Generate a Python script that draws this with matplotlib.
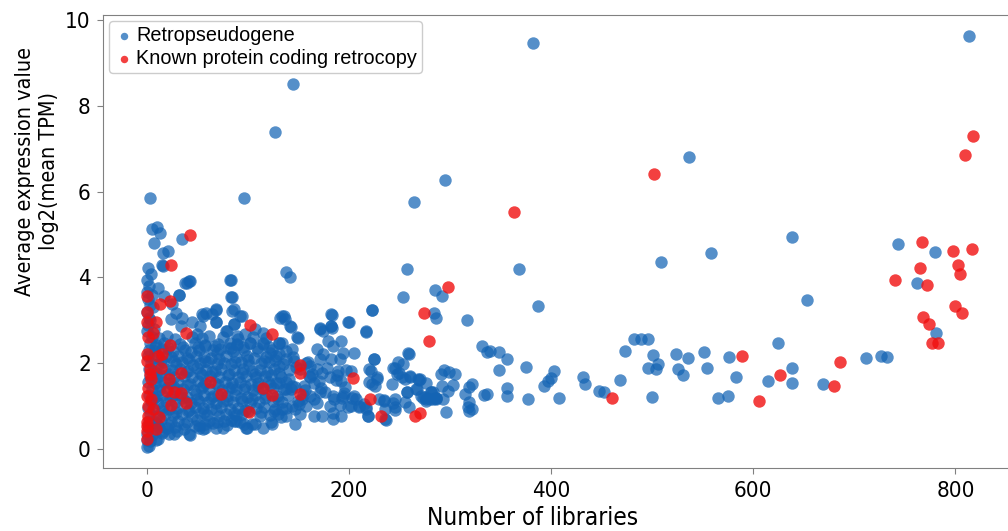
import numpy as np
import matplotlib
matplotlib.use('Agg')
import matplotlib.pyplot as plt
from matplotlib import font_manager

# retropseudogenes: (number of libraries, log2 mean TPM)
retro_x = [
    # dense core, row by row
    5, 12, 20, 28, 45, 55, 62, 75, 90, 105, 118,
    3, 9, 17, 33, 48, 58, 70, 82, 89, 102, 115, 131,
    2, 8, 15, 26, 38, 44, 52, 66, 72, 85, 96, 110, 124, 138,
    1, 6, 19, 24, 31, 40, 49, 57, 64, 78, 88, 99, 106, 118, 128, 145,
    4, 11, 16, 29, 35, 46, 53, 61, 69, 76, 83, 93, 101, 113, 121, 135, 158,
    2, 7, 18, 25, 33, 41, 50, 59, 67, 73, 86, 95, 104, 112, 126, 141, 152,
    3, 10, 14, 27, 37, 45, 55, 63, 71, 80, 90, 98, 108, 117, 123, 133, 160,
    1, 8, 17, 23, 31, 43, 51, 58, 67, 77, 84, 92, 103, 110, 120, 128, 138, 165,
    5, 12, 20, 29, 36, 47, 54, 62, 74, 81, 88, 96, 105, 114, 125, 136, 143, 157,
    2, 9, 15, 25, 33, 40, 49, 57, 66, 70, 79, 87, 99, 107, 118, 129, 140, 161,
    4, 11, 19, 28, 38, 44, 52, 61, 68, 75, 85, 94, 102, 111, 125, 134, 150, 168,
    1, 7, 16, 22, 30, 42, 48, 56, 64, 73, 82, 90, 97, 108, 116, 127, 138, 147,
    3, 10, 18, 26, 35, 45, 53, 60, 71, 78, 88, 94, 112, 122, 130,
    2, 8, 14, 24, 31, 40, 50, 62, 69, 83, 92,
    1, 6, 12, 20, 28, 37, 48, 58, 75,
    0, 5, 15, 27, 42,
    0, 3, 9, 0, 2,
    # in-between rows, core
    8, 21, 36, 51, 67, 80, 95, 109, 121,
    14, 27, 42, 58, 71, 87, 100, 116, 127,
    9, 22, 39, 53, 65, 81, 94, 107, 119, 131,
    13, 26, 40, 56, 70, 84, 97, 110, 122, 144,
    7, 23, 35, 50, 64, 79, 93, 104, 117, 130,
    15, 29, 41, 57, 68, 86, 100, 113, 126,
    10, 21, 37, 52, 66, 79, 96,
    # extra fill, 140-200 core
    148, 156, 163, 176, 187, 196, 151, 170, 178, 185, 146, 155, 172, 188, 195, 159,
    # x=0 column, upper part
    0, 1, 2, 0, 3, 1, 0, 2, 0, 4, 1, 5, 6, 3, 7,
    # bottom edge of the core
    43, 56, 68, 76, 86, 99, 107, 115, 123, 133, 30, 22, 11, 52, 58, 16, 98, 104, 88, 124,
    # upper fringe of the core
    16, 11, 17, 32, 40, 43, 83, 84, 84, 92, 68, 65, 56, 68, 53, 50, 45, 35, 29, 25, 34, 24,
    86, 79, 89, 97, 107, 115, 132, 58, 69, 83, 89, 102, 115, 131, 122, 131,
    55, 59, 68, 68, 86, 94, 86, 78,
    # outliers, low x
    3, 96, 5, 10, 13, 7, 35, 16, 21, 15, 38, 42, 82, 83, 32, 138, 142, 145, 127,
    # 130-290 band
    136, 142, 171, 182, 182, 199, 223, 217, 149, 134, 144, 168, 179, 192, 184, 194, 205,
    174, 182, 191, 225, 171, 138, 131, 161, 168, 173, 161, 181, 189, 197, 202, 192, 220,
    228, 223, 244, 249, 258, 248, 255, 260, 268, 243, 267, 276, 283, 286, 276, 271, 257,
    255, 246, 236, 230, 235, 217, 210, 202, 205, 194, 184, 171, 165, 154, 158, 144, 134,
    138, 152, 165, 173, 181, 184, 192, 147, 184, 207, 219, 236, 131, 141, 138, 147, 259,
    246, 283,
    183, 182, 183, 171, 174, 134, 137, 143, 150, 259, 225, 253, 246, 250, 252, 260, 269,
    222, 228, 220, 226, 237, 235, 246, 244, 257, 266, 275, 281, 286, 276, 199, 203, 193,
    191, 210, 215, 217, 219, 223, 217, 200,
    # sparse right part
    382, 536, 295, 558, 509, 368, 285, 292, 387, 284, 286, 317, 332, 337, 340, 348, 356,
    348, 375, 403, 400, 397, 393, 408, 377, 356, 356, 334, 337, 322, 319, 315, 319, 318,
    319, 322, 296, 293, 292, 303, 298, 291, 294, 299, 305, 281, 280, 286, 273, 270,
    432, 434, 447, 452, 468, 473, 482, 489, 496, 501, 506, 504, 496, 500, 524, 535, 526,
    530, 551, 554, 565, 813, 638, 743, 780, 762, 653, 781, 624, 576, 583, 575, 615, 638,
    638, 669, 712, 726, 732, 264, 257, 253,
]
retro_y = [
    2.62, 2.58, 2.63, 2.57, 2.61, 2.59, 2.64, 2.60, 2.56, 2.62, 2.58,
    2.47, 2.43, 2.46, 2.44, 2.48, 2.42, 2.45, 2.47, 2.43, 2.46, 2.44, 2.47,
    2.31, 2.28, 2.33, 2.29, 2.32, 2.27, 2.31, 2.30, 2.33, 2.28, 2.31, 2.29, 2.32, 2.28,
    2.16, 2.13, 2.17, 2.14, 2.16, 2.12, 2.18, 2.15, 2.13, 2.17, 2.14, 2.16, 2.12, 2.15, 2.17, 2.14,
    2.01, 1.98, 2.02, 1.99, 2.03, 1.97, 2.00, 2.02, 1.98, 2.01, 1.99, 2.03, 1.97, 2.00, 2.02, 1.98, 2.01,
    1.86, 1.83, 1.87, 1.84, 1.86, 1.82, 1.88, 1.85, 1.83, 1.87, 1.84, 1.86, 1.82, 1.85, 1.87, 1.84, 1.86,
    1.71, 1.68, 1.72, 1.69, 1.71, 1.67, 1.73, 1.70, 1.68, 1.72, 1.69, 1.71, 1.67, 1.70, 1.72, 1.69, 1.71,
    1.56, 1.53, 1.57, 1.54, 1.56, 1.52, 1.58, 1.55, 1.53, 1.57, 1.54, 1.56, 1.52, 1.55, 1.57, 1.54, 1.56, 1.53,
    1.41, 1.38, 1.42, 1.39, 1.41, 1.37, 1.43, 1.40, 1.38, 1.42, 1.39, 1.41, 1.37, 1.40, 1.42, 1.39, 1.41, 1.38,
    1.26, 1.23, 1.27, 1.24, 1.26, 1.22, 1.28, 1.25, 1.23, 1.27, 1.24, 1.26, 1.22, 1.25, 1.27, 1.24, 1.26, 1.23,
    1.11, 1.08, 1.12, 1.09, 1.11, 1.07, 1.13, 1.10, 1.08, 1.12, 1.09, 1.11, 1.07, 1.10, 1.12, 1.09, 1.11, 1.08,
    0.96, 0.93, 0.97, 0.94, 0.96, 0.92, 0.98, 0.95, 0.93, 0.97, 0.94, 0.96, 0.92, 0.95, 0.97, 0.94, 0.96, 0.93,
    0.81, 0.78, 0.82, 0.79, 0.81, 0.77, 0.83, 0.80, 0.78, 0.82, 0.79, 0.81, 0.77, 0.80, 0.82,
    0.66, 0.63, 0.67, 0.64, 0.66, 0.62, 0.68, 0.65, 0.63, 0.67, 0.64,
    0.51, 0.48, 0.52, 0.49, 0.51, 0.47, 0.53, 0.50, 0.48,
    0.36, 0.33, 0.37, 0.34, 0.36,
    0.21, 0.18, 0.22, 0.05, 0.08,
    2.38, 2.36, 2.39, 2.37, 2.40, 2.35, 2.38, 2.36, 2.39,
    2.07, 2.05, 2.08, 2.06, 2.09, 2.04, 2.07, 2.05, 2.08,
    1.78, 1.76, 1.79, 1.77, 1.80, 1.75, 1.78, 1.76, 1.79, 1.77,
    1.48, 1.46, 1.49, 1.47, 1.50, 1.45, 1.48, 1.46, 1.49, 1.47,
    1.18, 1.16, 1.19, 1.17, 1.20, 1.15, 1.18, 1.16, 1.19, 1.17,
    0.88, 0.86, 0.89, 0.87, 0.90, 0.85, 0.88, 0.86, 0.89,
    0.58, 0.56, 0.59, 0.57, 0.60, 0.55, 0.58,
    1.92, 1.48, 1.76, 1.33, 1.61, 1.44, 1.05, 1.58, 1.90, 1.17, 2.05, 1.27, 1.42, 1.72, 1.30, 2.02,
    2.75, 2.90, 3.05, 3.20, 3.35, 3.50, 3.65, 3.80, 3.95, 4.07, 4.22, 3.60, 3.30, 3.00, 2.80,
    0.33, 0.47, 0.50, 0.66, 0.66, 0.50, 0.58, 0.50, 0.62, 0.74, 0.43, 0.35, 0.23, 0.50, 0.58, 0.43, 0.50, 0.58, 0.66, 0.58,
    4.26, 3.76, 3.57, 3.59, 3.88, 3.91, 3.95, 3.54, 3.22, 3.10, 3.26, 3.14, 3.10, 2.95, 2.87, 2.67, 2.95, 3.06, 3.18, 3.37, 2.87, 3.02,
    2.91, 2.75, 2.64, 2.67, 2.79, 2.71, 3.06, 2.40, 2.25, 2.36, 2.44, 2.48, 2.48, 2.48, 2.25, 2.21,
    3.14, 3.18, 3.24, 2.95, 3.26, 3.10, 2.91, 2.75,
    5.84, 5.84, 5.13, 5.17, 5.04, 4.81, 4.89, 4.56, 4.61, 4.28, 3.88, 3.91, 3.95, 3.55, 3.59, 4.12, 4.01, 8.50, 7.40,
    3.10, 2.87, 2.79, 3.14, 2.87, 2.95, 3.24, 2.74, 2.60, 2.48, 2.33, 2.33, 2.52, 2.52, 2.40, 2.25, 2.25,
    2.21, 2.09, 2.11, 2.09, 2.09, 2.09, 1.94, 1.94, 1.86, 1.78, 1.67, 1.67, 1.82, 1.85, 1.82, 1.59, 1.86,
    1.67, 1.51, 1.90, 2.02, 2.25, 1.75, 1.63, 1.71, 1.63, 1.51, 1.40, 1.55, 1.32, 1.20, 1.16, 1.24, 1.32,
    1.09, 0.97, 0.93, 1.16, 1.13, 0.97, 1.01, 1.01, 1.24, 1.24, 1.24, 1.32, 1.16, 1.16, 1.01, 1.01, 0.93,
    0.78, 0.82, 0.78, 0.78, 1.01, 0.70, 0.78, 0.58, 0.85, 1.16, 0.78, 0.70, 1.55, 1.63, 1.40, 1.44, 0.97,
    1.16, 1.16,
    3.13, 2.87, 2.82, 2.83, 2.75, 3.09, 3.04, 2.84, 2.59, 2.21, 2.09, 1.98, 1.90, 1.78, 1.67, 1.67, 1.61,
    1.82, 1.63, 1.57, 1.47, 0.68, 1.14, 0.91, 1.07, 1.32, 1.40, 1.22, 1.32, 1.16, 1.12, 0.97, 1.18, 1.20,
    1.03, 0.97, 1.05, 0.93, 0.78, 3.23, 2.73, 2.95,
    9.47, 6.80, 6.27, 4.57, 4.37, 4.19, 3.70, 3.56, 3.33, 3.18, 3.05, 3.01, 2.40, 2.27, 2.29, 2.27, 2.09,
    1.84, 1.92, 1.82, 1.65, 1.59, 1.47, 1.20, 1.16, 1.43, 1.24, 1.26, 1.28, 1.51, 1.45, 1.29, 1.09, 0.97,
    0.89, 0.93, 0.87, 1.16, 1.47, 1.50, 1.36, 1.74, 1.84, 1.80, 1.76, 1.32, 1.16, 1.18, 1.20, 1.63,
    1.69, 1.51, 1.36, 1.32, 1.60, 2.29, 2.57, 2.57, 2.57, 2.19, 1.98, 1.86, 1.88, 1.22, 2.22, 2.13, 1.86,
    1.73, 2.26, 1.90, 1.19, 9.63, 4.95, 4.78, 4.60, 3.88, 3.48, 2.71, 2.48, 2.15, 1.68, 1.23, 1.59, 1.88,
    1.55, 1.51, 2.12, 2.17, 2.15, 5.75, 4.19, 3.54,
]

# known protein coding retrocopies
known_x = [
    43, 24, 0, 13, 23, 0, 9, 6, 39, 23, 0, 11, 15, 3, 4, 14, 22, 34, 63, 73,
    1, 0, 20, 27, 34, 24, 39, 4, 6, 1, 12, 0, 9, 0, 0, 1, 0, 3, 0, 1, 0,
    102, 124, 115, 124, 101, 152, 152, 152, 204, 221, 232, 265, 270,
    274, 279, 298, 363, 502, 460, 589, 606, 626, 680, 686,
    740, 765, 767, 772, 768, 774, 777, 783, 798, 803, 805, 800, 806, 816, 809, 817,
]
known_y = [
    4.98, 4.30, 3.56, 3.37, 3.45, 2.95, 2.95, 2.71, 2.70, 2.42, 2.22, 2.17, 2.21, 1.86, 1.64, 1.90, 1.64, 1.77, 1.57, 1.28,
    1.43, 1.24, 1.36, 1.33, 1.31, 1.02, 1.08, 1.17, 0.93, 0.77, 0.74, 0.54, 0.46, 0.23, 0.62, 1.01, 0.43, 1.74, 2.05, 2.60, 3.20,
    2.88, 2.69, 1.43, 1.27, 0.86, 1.96, 1.77, 1.29, 1.65, 1.17, 0.76, 0.76, 0.84,
    3.16, 2.52, 3.78, 5.52, 6.40, 1.20, 2.17, 1.12, 1.72, 1.46, 2.02,
    3.93, 4.21, 4.82, 3.82, 3.08, 2.91, 2.47, 2.46, 4.62, 4.29, 4.09, 3.34, 3.17, 4.67, 6.85, 7.30,
]

# use a condensed face for axis text when one is installed
stretch = 'normal'
for f in font_manager.fontManager.ttflist:
    if f.name == 'DejaVu Sans' and f.stretch == 'condensed':
        stretch = 'condensed'
        break
big = stretch == 'condensed'

fig = plt.figure(figsize=(10.08, 5.31), dpi=100)
ax = fig.add_axes([0.1025, 0.118, 0.8975, 0.854])

ax.scatter(retro_x, retro_y, s=80, color='#1464b4', alpha=0.72, linewidths=0,
           label='Retropseudogene')
ax.scatter(known_x, known_y, s=80, color='#f01010', alpha=0.8, linewidths=0,
           label='Known protein coding retrocopy')

ax.set_xlim(-43, 852)
ax.set_ylim(-0.45, 10.12)
ax.set_xticks([0, 200, 400, 600, 800])
ax.set_yticks([0, 2, 4, 6, 8, 10])

for side in ['left', 'bottom', 'top']:
    ax.spines[side].set_color('#808080')
ax.spines['right'].set_visible(False)
ax.tick_params(direction='out', length=4, color='#808080',
               labelsize=16 if big else 13, pad=5)
for lab in ax.get_xticklabels() + ax.get_yticklabels():
    lab.set_fontstretch(stretch)

ax.set_xlabel('Number of libraries', fontsize=17.5 if big else 15,
              fontstretch=stretch, va='center')
ax.xaxis.set_label_coords(0.474, -0.11)
ax.set_ylabel('Average expression value\nlog2(mean TPM)', fontsize=15.5 if big else 13,
              fontstretch=stretch, va='center', linespacing=1.25)
ax.yaxis.set_label_coords(-0.073, 0.655)

leg = ax.legend(loc='upper left', prop={'family': 'Liberation Sans', 'size': 14.3},
                markerscale=0.6, handletextpad=0.1, borderpad=0.25, borderaxespad=0.3,
                handlelength=1.0, labelspacing=0.2, framealpha=1)
leg.get_frame().set_edgecolor('#cccccc')

plt.savefig('out.png', dpi=100)
